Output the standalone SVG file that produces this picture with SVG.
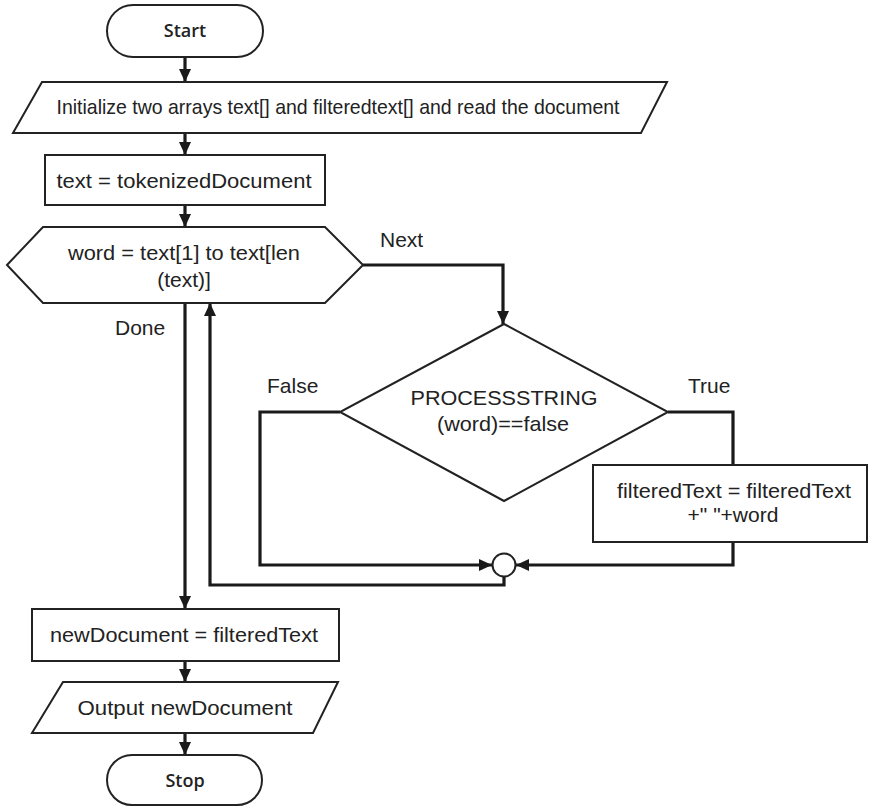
<svg xmlns="http://www.w3.org/2000/svg" width="870" height="807" viewBox="0 0 870 807">
  <style>
    .shape { fill: #fff; stroke: #222; stroke-width: 2; }
    .conn { fill: none; stroke: #1a1a1a; stroke-width: 3.2; }
    .lbl { font-family: "Liberation Sans", Arial, sans-serif; font-size: 21px; fill: #222; text-anchor: middle; }
    .lbl-l { font-family: "Liberation Sans", Arial, sans-serif; font-size: 21px; fill: #222; }
    .term { font-family: "Open Sans", "Noto Sans", sans-serif; font-size: 18px; font-weight: 600; fill: #222; text-anchor: middle; }
  </style>
  <defs>
    <marker id="arrow" markerUnits="userSpaceOnUse" markerWidth="14" markerHeight="14" viewBox="0 0 14 14" refX="13" refY="7" orient="auto">
      <path d="M0,1 L13,7 L0,13 Z" fill="#1a1a1a"/>
    </marker>
  </defs>

  <!-- connectors -->
  <g id="connectors">
    <line class="conn" x1="185" y1="57" x2="185" y2="82" marker-end="url(#arrow)"/>
    <line class="conn" x1="185" y1="133" x2="185" y2="155" marker-end="url(#arrow)"/>
    <line class="conn" x1="185" y1="205" x2="185" y2="227" marker-end="url(#arrow)"/>
    <!-- Next -->
    <polyline class="conn" points="363,265 503,265 503,324" marker-end="url(#arrow)"/>
    <!-- True -->
    <polyline class="conn" points="668,412 733,412 733,465"/>
    <!-- False -->
    <polyline class="conn" points="340,412 260,412 260,565 492,565" marker-end="url(#arrow)"/>
    <!-- from filtered text box to merge point -->
    <polyline class="conn" points="733,542 733,565 516,565" marker-end="url(#arrow)"/>
    <!-- loop back -->
    <polyline class="conn" points="504,576 504,585 210,585 210,303" marker-end="url(#arrow)"/>
    <!-- Done -->
    <line class="conn" x1="185" y1="303" x2="185" y2="609" marker-end="url(#arrow)"/>
    <line class="conn" x1="185" y1="661" x2="185" y2="682" marker-end="url(#arrow)"/>
    <line class="conn" x1="185" y1="733" x2="185" y2="755" marker-end="url(#arrow)"/>
    <text class="lbl-l" x="380" y="247">Next</text>
    <text class="lbl-l" x="115" y="335">Done</text>
    <text class="lbl-l" x="267" y="393">False</text>
    <text class="lbl-l" x="688" y="393">True</text>
  </g>

  <g id="start">
    <rect class="shape" x="107" y="5" width="156" height="52" rx="26" ry="26"/>
    <text class="term" x="185" y="37">Start</text>
  </g>

  <g id="init">
    <polygon class="shape" points="42,82 667,82 641,133 13,133"/>
    <text class="lbl" x="338" y="114" textLength="563" lengthAdjust="spacingAndGlyphs">Initialize two arrays text[] and filteredtext[] and read the document</text>
  </g>

  <g id="tokenize">
    <rect class="shape" x="45" y="155" width="280" height="50"/>
    <text class="lbl" x="184" y="188" textLength="255" lengthAdjust="spacingAndGlyphs">text = tokenizedDocument</text>
  </g>

  <g id="loop">
    <polygon class="shape" points="7,265 43,227 325,227 363,265 325,303 43,303"/>
    <text class="lbl" x="184" y="260" textLength="232" lengthAdjust="spacingAndGlyphs">word = text[1] to text[len</text>
    <text class="lbl" x="184" y="287">(text)]</text>
  </g>

  <g id="decision">
    <polygon class="shape" points="504,324 668,412 504,501 340,412"/>
    <text class="lbl" x="504" y="405" textLength="187" lengthAdjust="spacingAndGlyphs">PROCESSSTRING</text>
    <text class="lbl" x="503" y="431" textLength="132" lengthAdjust="spacingAndGlyphs">(word)==false</text>
  </g>

  <g id="append">
    <rect class="shape" x="593" y="465" width="274" height="77"/>
    <text class="lbl" x="734" y="498" textLength="234" lengthAdjust="spacingAndGlyphs">filteredText = filteredText</text>
    <text class="lbl" x="733" y="522">+" "+word</text>
  </g>

  <g id="merge">
    <circle class="shape" cx="504" cy="565" r="11.5"/>
  </g>

  <g id="assign">
    <rect class="shape" x="32" y="609" width="307" height="52"/>
    <text class="lbl" x="184" y="642" textLength="268" lengthAdjust="spacingAndGlyphs">newDocument = filteredText</text>
  </g>

  <g id="output">
    <polygon class="shape" points="63,682 338,682 313,733 32,733"/>
    <text class="lbl" x="185" y="715" textLength="215" lengthAdjust="spacingAndGlyphs">Output newDocument</text>
  </g>

  <g id="stop">
    <rect class="shape" x="107" y="755" width="155" height="50" rx="25" ry="25"/>
    <text class="term" x="185" y="787">Stop</text>
  </g>
</svg>
